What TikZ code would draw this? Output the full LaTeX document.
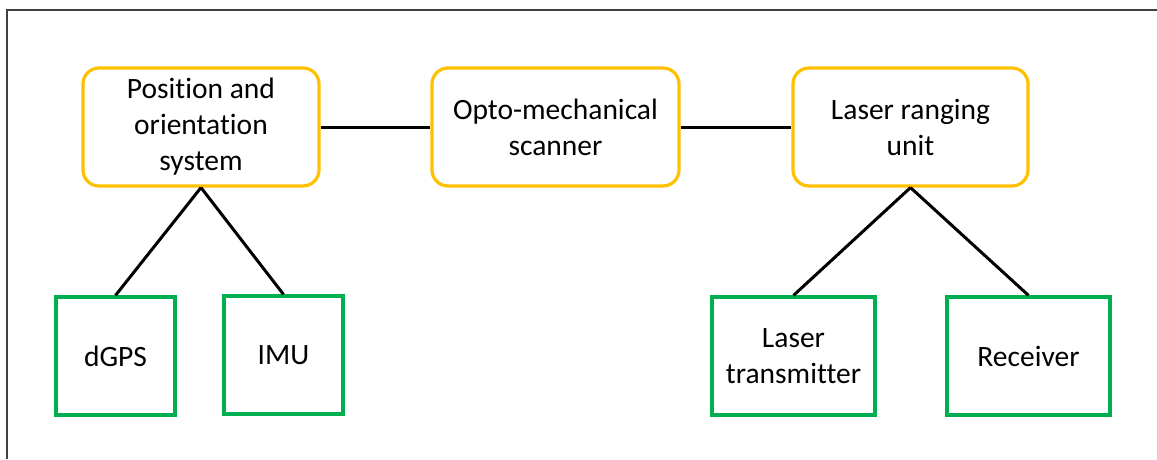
\documentclass[tikz,border=0pt]{standalone}
\usepackage{fontspec}
\setmainfont{Carlito}[Ligatures=NoCommon]
\usepackage{tikz}
\usetikzlibrary{positioning}
\definecolor{unityellow}{HTML}{FFC000}
\definecolor{partgreen}{HTML}{00B050}

\begin{document}
\begin{tikzpicture}[
  x=1pt, y=1pt,
  font=\fontsize{29.5}{36}\selectfont,
  unit/.style={
    rectangle, draw=unityellow, line width=3.2pt, rounded corners=16pt,
    minimum height=118pt, align=center, inner sep=0pt
  },
  part/.style={
    rectangle, draw=partgreen, line width=3.2pt,
    minimum height=118pt, align=center, inner sep=0pt
  },
  link/.style={line width=3pt, black}
]
\useasboundingbox (0,0) rectangle (1157,459);

% Frame edges
\draw[line width=1.4pt, black!75] (7,0) -- (7,449) -- (1157,449);

% Main units
\node[unit, minimum width=236pt] (pos) at (201,332) {Position and\\orientation\\system};
\node[unit, minimum width=247pt] (opto) at (555.5,332) {Opto-mechanical\\scanner};
\node[unit, minimum width=235pt] (lru) at (910.5,332) {Laser ranging\\unit};

% Sub parts
\node[part, minimum width=119pt] (dgps) at (115.5,103) {dGPS};
\node[part, minimum width=119pt] (imu) at (283.5,104) {IMU};
\node[part, minimum width=163pt] (ltx) at (793.5,103) {Laser\\transmitter};
\node[part, minimum width=163pt] (recv) at (1028.5,103) {Receiver};

% Connections
\draw[link] (pos) -- (opto);
\draw[link] (opto) -- (lru);
\draw[link] (pos.south) -- (dgps.north);
\draw[link] (pos.south) -- (imu.north);
\draw[link] (lru.south) -- (ltx.north);
\draw[link] (lru.south) -- (recv.north);

\end{tikzpicture}
\end{document}
